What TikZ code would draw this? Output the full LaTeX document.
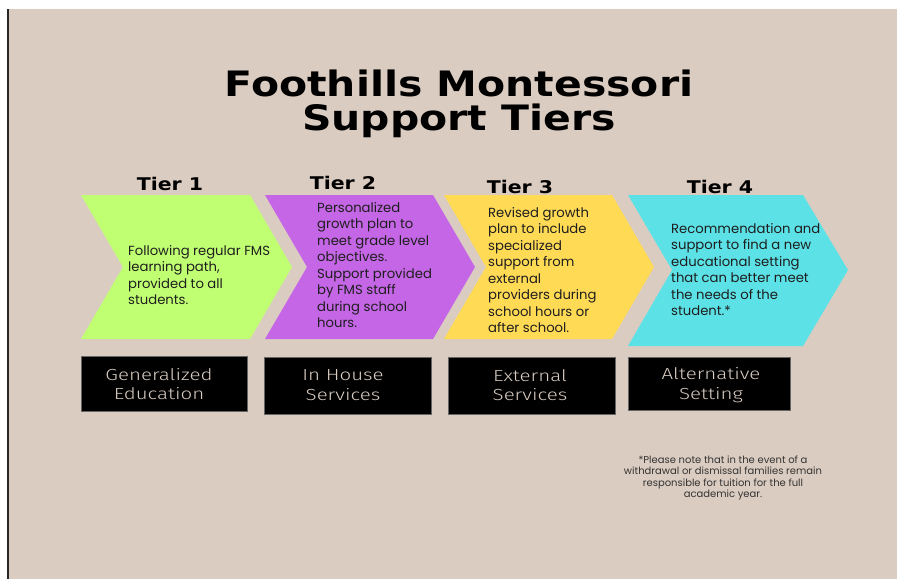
\documentclass[tikz,border=0pt]{standalone}
\usepackage{fontspec}
\setmainfont{Poppins}
\newfontfamily\titlefont{DejaVu Sans}
\newfontfamily\boxfont{Fira Sans Light}
\definecolor{bg}{HTML}{DBCCC1}
\definecolor{lime}{HTML}{C1FF72}
\definecolor{violet}{HTML}{C566E6}
\definecolor{sun}{HTML}{FFDA55}
\definecolor{aqua}{HTML}{5CE1E6}
\definecolor{ink}{HTML}{1E1E1E}
\definecolor{boxtext}{HTML}{D8CCC2}
\tikzset{
  body/.style={anchor=north west, align=left, inner sep=0pt, text=ink,
     font=\fontsize{13.2}{16.5}\selectfont},
  tierlab/.style={font=\titlefont\bfseries\fontsize{17.5}{20}\selectfont, text=black, inner sep=0pt, xscale=1.17},
  blackbox/.style={fill=black, draw=black!60, line width=0.6pt},
  boxlab/.style={align=center, text=boxtext, font=\boxfont\fontsize{16}{19.5}\selectfont, inner sep=0pt, xscale=1.28},
}
\begin{document}
\begin{tikzpicture}[x=1pt,y=-1pt]
\useasboundingbox (0,0) rectangle (899,579);
\fill[white] (0,0) rectangle (899,579);
\fill[bg] (9,9) rectangle (897,579);
\fill[black!85] (7,9) rectangle (9,579);

% title
\node[font=\titlefont\bfseries\fontsize{35}{34}\selectfont, align=center, inner sep=0pt, xscale=1.17] (title) at (459,104) {Foothills Montessori\\Support Tiers};

% tier labels
\node[tierlab] (t1) at (170,184) {Tier 1};
\node[tierlab] (t2) at (343,183) {Tier 2};
\node[tierlab] (t3) at (520,187) {Tier 3};
\node[tierlab] (t4) at (720,187) {Tier 4};

% chevrons
\fill[lime]   (81,195) -- (250,195) -- (292,267) -- (250,339) -- (81,339) -- (123,267) -- cycle;
\fill[violet] (265,195) -- (433,195) -- (475,267) -- (433,339) -- (265,339) -- (307,267) -- cycle;
\fill[sun]    (444,195) -- (612,195) -- (654,267) -- (612,339) -- (444,339) -- (486,267) -- cycle;
\fill[aqua]   (628,195) -- (803,195) -- (848,270) -- (803,346) -- (628,346) -- (672,270) -- cycle;

% chevron texts
\node[body] (d1) at (128,245) {Following regular FMS\\learning path,\\provided to all\\students.};
\node[body] (d2) at (317,202) {Personalized\\growth plan to\\meet grade level\\objectives.\\Support provided\\by FMS staff\\during school\\hours.};
\node[body] (d3) at (488,207) {Revised growth\\plan to include\\specialized\\support from\\external\\providers during\\school hours or\\after school.};
\node[body] (d4) at (671,223) {Recommendation and\\support to find a new\\educational setting\\that can better meet\\the needs of the\\student.*};

% black boxes
\draw[blackbox] (81,356) rectangle (247,411);
\draw[blackbox] (264,357) rectangle (431,414);
\draw[blackbox] (448,357) rectangle (615,414);
\draw[blackbox] (628,357) rectangle (790,410);
\node[boxlab] (b1) at (159,384) {Generalized\\Education};
\node[boxlab] (b2) at (343,385) {In House\\Services};
\node[boxlab] (b3) at (530,385) {External\\Services};
\node[boxlab] (b4) at (711,385) {Alternative\\Setting};

% footnote
\node[align=center, inner sep=0pt, text=black!80, font=\fontsize{10}{11.6}\selectfont] (note) at (723,478) {*Please note that in the event of a\\withdrawal or dismissal families remain\\responsible for tuition for the full\\academic year.};
\end{tikzpicture}
\end{document}
